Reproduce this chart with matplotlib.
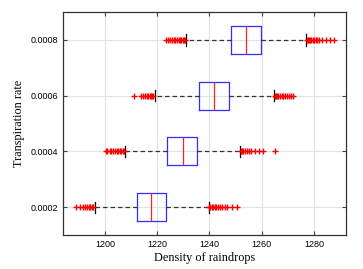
import matplotlib
matplotlib.use("Agg")
import matplotlib.pyplot as plt

# Transpiration rates (y positions) and box statistics
rates = [0.0002, 0.0004, 0.0006, 0.0008]
rate_labels = ['0.0002', '0.0004', '0.0006', '0.0008']
whislo = [1196.1, 1207.6, 1219.0, 1231.2]
q1 = [1212.4, 1223.9, 1236.1, 1248.4]
med = [1217.8, 1229.7, 1241.8, 1254.0]
q3 = [1223.3, 1235.4, 1247.5, 1259.7]
whishi = [1239.7, 1251.7, 1264.5, 1276.8]

fliers_02 = [1189.0, 1190.5, 1191.5, 1192.5, 1193.2, 1193.8, 1194.4, 1195.0, 1195.5,
             1240.0, 1240.4, 1240.9, 1241.4, 1242.0, 1242.6, 1243.3, 1244.0, 1244.8,
             1245.8, 1246.6, 1248.8, 1250.4]
fliers_04 = [1200.3, 1201.0, 1201.8, 1202.5, 1203.2, 1204.0, 1204.6, 1205.2, 1205.8,
             1206.3, 1206.8, 1207.2,
             1252.0, 1252.5, 1253.0, 1253.6, 1254.2, 1255.0, 1256.0, 1257.3, 1259.0,
             1260.6, 1265.1]
fliers_06 = [1211.0, 1213.8, 1214.5, 1215.3, 1216.0, 1216.6, 1217.2, 1217.7, 1218.2, 1218.6,
             1265.0, 1265.4, 1265.9, 1266.4, 1267.0, 1267.6, 1268.2, 1268.9, 1269.6,
             1270.4, 1271.2, 1272.0]
fliers_08 = [1223.3, 1224.0, 1224.8, 1225.5, 1226.3, 1227.0, 1227.6, 1228.2, 1228.8,
             1229.3, 1229.8, 1230.3, 1230.8,
             1277.2, 1277.6, 1278.0, 1278.5, 1279.0, 1279.5, 1280.0, 1280.6, 1281.3,
             1282.0, 1283.0, 1284.5, 1286.2, 1287.8]
fliers = [fliers_02, fliers_04, fliers_06, fliers_08]

stats = []
for i in range(len(rates)):
    stats.append({'whislo': whislo[i], 'q1': q1[i], 'med': med[i], 'q3': q3[i],
                  'whishi': whishi[i], 'fliers': fliers[i]})

fig = plt.figure(figsize=(3.63, 2.69), dpi=100)
ax = fig.add_axes([0.1736, 0.1264, 0.7794, 0.8286])

ax.grid(True, color='#e2e2e2', linewidth=0.8)
ax.set_axisbelow(True)

ax.bxp(stats, positions=rates, widths=0.0001, capwidths=0.00004,
       orientation='horizontal', manage_ticks=False,
       boxprops=dict(color='#2f2fff', linewidth=0.9),
       medianprops=dict(color='#ff2020', linewidth=0.9),
       whiskerprops=dict(color='#333333', linewidth=0.9, linestyle=(0, (3.5, 2.5))),
       capprops=dict(color='black', linewidth=0.9),
       flierprops=dict(marker='+', markeredgecolor='red', markersize=4.5,
                       markeredgewidth=1.0, linestyle='none'))

ax.set_xlim(1184, 1292.2)
ax.set_ylim(0.0001, 0.0009)
ax.set_xticks([1200, 1220, 1240, 1260, 1280])
ax.set_yticks(rates)
ax.set_yticklabels(rate_labels)

ax.tick_params(direction='in', top=True, right=True, length=3, width=0.8,
               color='#444444', labelsize=6.5)
for lab in ax.get_xticklabels() + ax.get_yticklabels():
    lab.set_family('Liberation Sans')
for sp in ax.spines.values():
    sp.set_color('#333333')
    sp.set_linewidth(0.9)

ax.set_xlabel('Density of raindrops', family='Liberation Serif', fontsize=8.8, labelpad=2)
ax.set_ylabel('Transpiration rate', family='Liberation Serif', fontsize=8.8, labelpad=4)

fig.savefig('out.png', dpi=100)
